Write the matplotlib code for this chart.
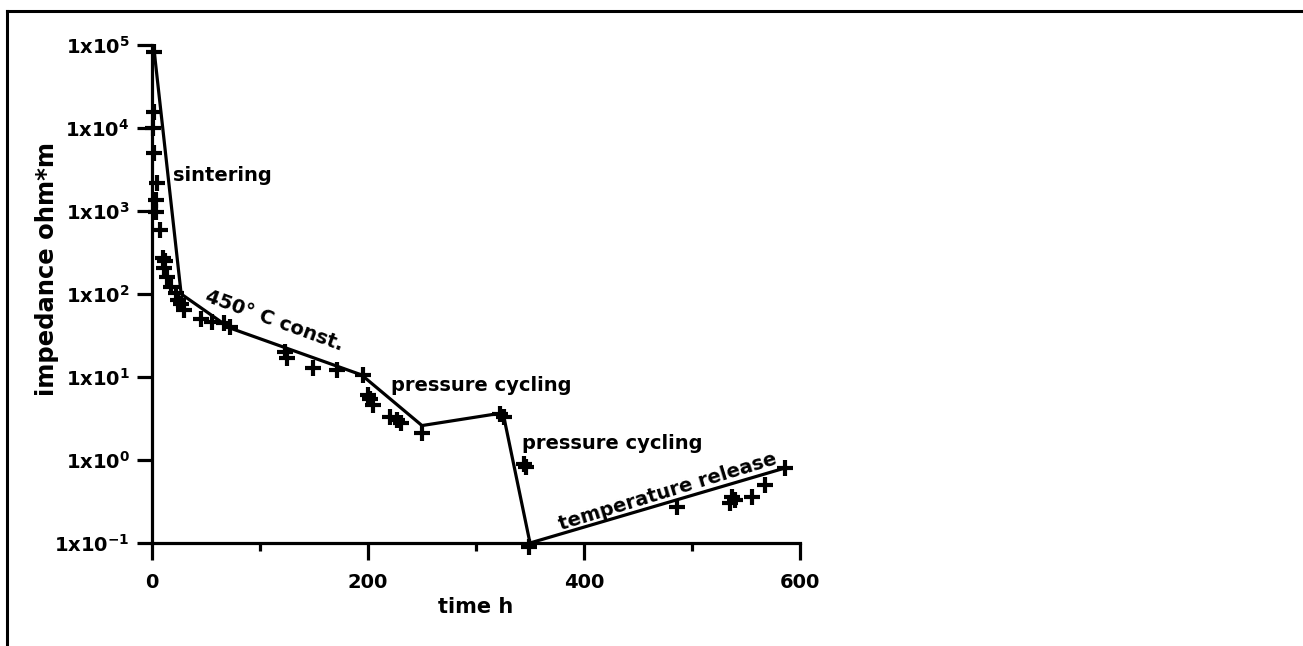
import math
import matplotlib
matplotlib.use("Agg")
import matplotlib.pyplot as plt
from matplotlib.lines import Line2D
from matplotlib.ticker import FixedLocator, FuncFormatter, NullLocator

plt.rcParams['font.family'] = ['DejaVu Sans']
plt.rcParams['mathtext.fontset'] = 'dejavusans'

# measured points (time in h, impedance in ohm*m)
time_pts = [2, 2, 1, 2, 5, 4, 4, 7, 10, 12, 14, 11, 18, 22, 24, 27, 30, 45, 56, 67, 72,
            123, 125, 149, 171, 195, 200, 202, 205, 220, 227, 231, 250,
            322, 326, 344, 346, 349, 486, 535, 537, 540, 556, 568, 586]
imp_pts = [8.3e4, 1.55e4, 1.0e4, 5.0e3, 2.2e3, 1.35e3, 980, 590, 270, 250, 160, 205, 120, 102, 85, 75, 65, 50, 46, 45, 40,
           20, 17, 13, 12, 10.5, 6.0, 5.5, 4.6, 3.3, 3.0, 2.8, 2.1,
           3.6, 3.3, 0.9, 0.82, 0.09, 0.27, 0.30, 0.36, 0.33, 0.36, 0.5, 0.8]

# connecting line vertices
line_t = [2, 27, 72, 194, 250, 325, 350, 586]
line_z = [8.5e4, 100, 39, 10.6, 2.6, 3.7, 0.1, 0.8]

yticks = [1e-1, 1e0, 1e1, 1e2, 1e3, 1e4, 1e5]
xticks = [0, 200, 400, 600]
xminor = [100, 300, 500]

annotations = [
    ("sintering", 19.5, 2.7e3, 0, 'left'),
    ("450° C const.", 113, 48, -20, 'center'),
    ("pressure cycling", 305, 7.8, 0, 'center'),
    ("pressure cycling", 426, 1.6, 0, 'center'),
    ("temperature release", 478, 0.41, 17, 'center'),
]

W, H = 1303, 646
fig = plt.figure(figsize=(W / 100, H / 100), dpi=100)
ax = fig.add_axes([152 / W, 1 - 543 / H, (800 - 152) / W, (543 - 45) / H])

ax.plot(line_t, line_z, color='black', lw=2.3, clip_on=False, zorder=3)
ax.plot(time_pts, imp_pts, linestyle='none', marker='+', ms=12, mew=3.0,
        color='black', clip_on=False, zorder=4)

ax.set_yscale('log')
ax.set_xlim(0, 600)
ax.set_ylim(1e-1, 1e5)

ax.yaxis.set_major_locator(FixedLocator(yticks))
ax.yaxis.set_minor_locator(NullLocator())
ax.yaxis.set_major_formatter(FuncFormatter(
    lambda v, p: r'$\mathbf{1x10}^{\mathbf{%d}}$' % round(math.log10(v))))
ax.xaxis.set_major_locator(FixedLocator(xticks))
ax.xaxis.set_minor_locator(FixedLocator(xminor))

for s in ['top', 'right']:
    ax.spines[s].set_visible(False)
for s in ['left', 'bottom']:
    ax.spines[s].set_linewidth(2.3)

ax.tick_params(axis='y', which='major', length=11, width=2.3, labelsize=14, pad=5)
ax.tick_params(axis='x', which='major', length=12.5, width=2.3, labelsize=14, pad=9)
ax.tick_params(axis='x', which='minor', length=6, width=2.3)
for lab in ax.get_xticklabels():
    lab.set_fontweight('bold')

ax.set_xlabel('time h', fontsize=15, fontweight='bold')
ax.xaxis.set_label_coords(0.5, -0.108)
ax.set_ylabel('impedance ohm*m', fontsize=17.5, fontweight='bold')
ax.yaxis.set_label_coords(-0.143, 0.55)

for txt, x, y, rot, ha in annotations:
    ax.text(x, y, txt, fontsize=14, fontweight='bold', rotation=rot,
            rotation_mode='anchor', ha=ha, va='center', zorder=5)

# figure frame (top and left edges)
fig.add_artist(Line2D([7 / W, 1.0], [1 - 11 / H, 1 - 11 / H], transform=fig.transFigure,
                      color='black', lw=2.2))
fig.add_artist(Line2D([7 / W, 7 / W], [0, 1 - 11 / H], transform=fig.transFigure,
                      color='black', lw=2.2))

fig.savefig('out.png', dpi=100)
